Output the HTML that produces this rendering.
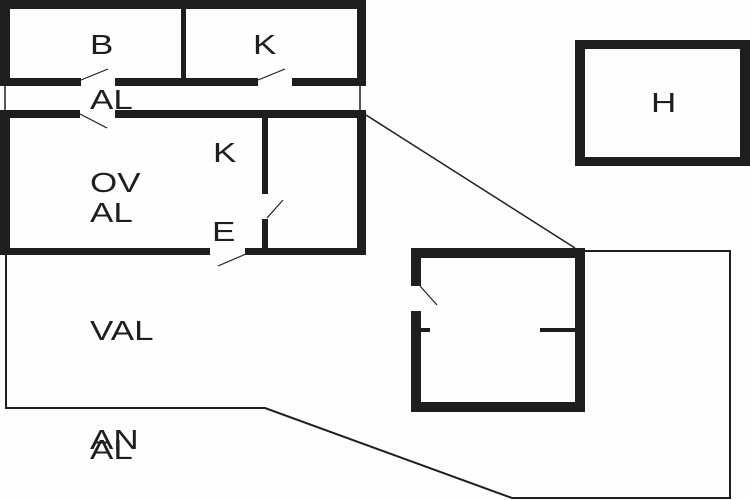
<!DOCTYPE html>
<html><head><meta charset="utf-8"><style>
html,body{margin:0;padding:0;background:#fefefe;}
svg{display:block;}
text{font-family:"Liberation Sans",sans-serif;fill:#1e1e1e;font-size:28px;}
</style></head><body>
<svg width="750" height="500" viewBox="0 0 750 500" xmlns="http://www.w3.org/2000/svg">
<rect width="750" height="500" fill="#fefefe"/>
<g fill="#1e1e1e">
<rect x="0" y="0" width="366" height="9"/>
<rect x="0" y="0" width="10" height="86"/>
<rect x="357" y="0" width="9" height="86"/>
<rect x="181" y="0" width="5" height="86"/>
<rect x="0" y="78" width="81" height="8"/>
<rect x="115" y="78" width="143" height="8"/>
<rect x="292" y="78" width="74" height="8"/>
<rect x="0" y="110" width="80" height="8"/>
<rect x="115" y="110" width="251" height="8"/>
<rect x="0" y="110" width="10" height="145"/>
<rect x="357" y="110" width="9" height="145"/>
<rect x="0" y="248" width="210" height="7"/>
<rect x="245" y="248" width="121" height="7"/>
<rect x="262" y="110" width="6" height="84"/>
<rect x="262" y="219" width="6" height="36"/>
<rect x="411" y="248" width="174" height="10"/>
<rect x="411" y="402" width="174" height="10"/>
<rect x="411" y="248" width="10" height="38"/>
<rect x="411" y="311" width="10" height="101"/>
<rect x="575" y="248" width="10" height="164"/>
<rect x="420" y="328" width="10" height="4"/>
<rect x="540" y="328" width="36" height="4"/>
<rect x="575" y="40" width="175" height="126"/>
</g>
<rect x="585" y="49" width="155" height="108" fill="#fefefe"/>
<g stroke="#1e1e1e" fill="none">
<line x1="5" y1="86" x2="5" y2="110" stroke-width="1.5"/>
<line x1="360" y1="86" x2="360" y2="110" stroke-width="1.5"/>
<polyline points="6,255 6,408 265,408 512,498 730,498 730,251 585,251" stroke-width="2"/>
<line x1="366" y1="115" x2="575" y2="248" stroke-width="1.5"/>
<g stroke-width="1.2">
<line x1="81" y1="80" x2="108" y2="69"/>
<line x1="258" y1="80" x2="285" y2="69"/>
<line x1="80" y1="114" x2="107" y2="128"/>
<line x1="267" y1="218" x2="283" y2="200"/>
<line x1="218" y1="266" x2="246" y2="254"/>
<line x1="420" y1="286" x2="437" y2="305"/>
</g>
</g>
<g transform="scale(1.25,1)">
<text x="72" y="54">B</text>
<text x="202.4" y="54">K</text>
<text x="72" y="109">AL</text>
<text x="170.4" y="162">K</text>
<text x="72" y="192">OV</text>
<text x="72" y="222">AL</text>
<text x="169.6" y="241">E</text>
<text x="72" y="340">VAL</text>
<text x="72" y="449">AN</text>
<text x="72" y="459">AL</text>
<text x="520.8" y="112">H</text>
</g>
</svg>
</body></html>
